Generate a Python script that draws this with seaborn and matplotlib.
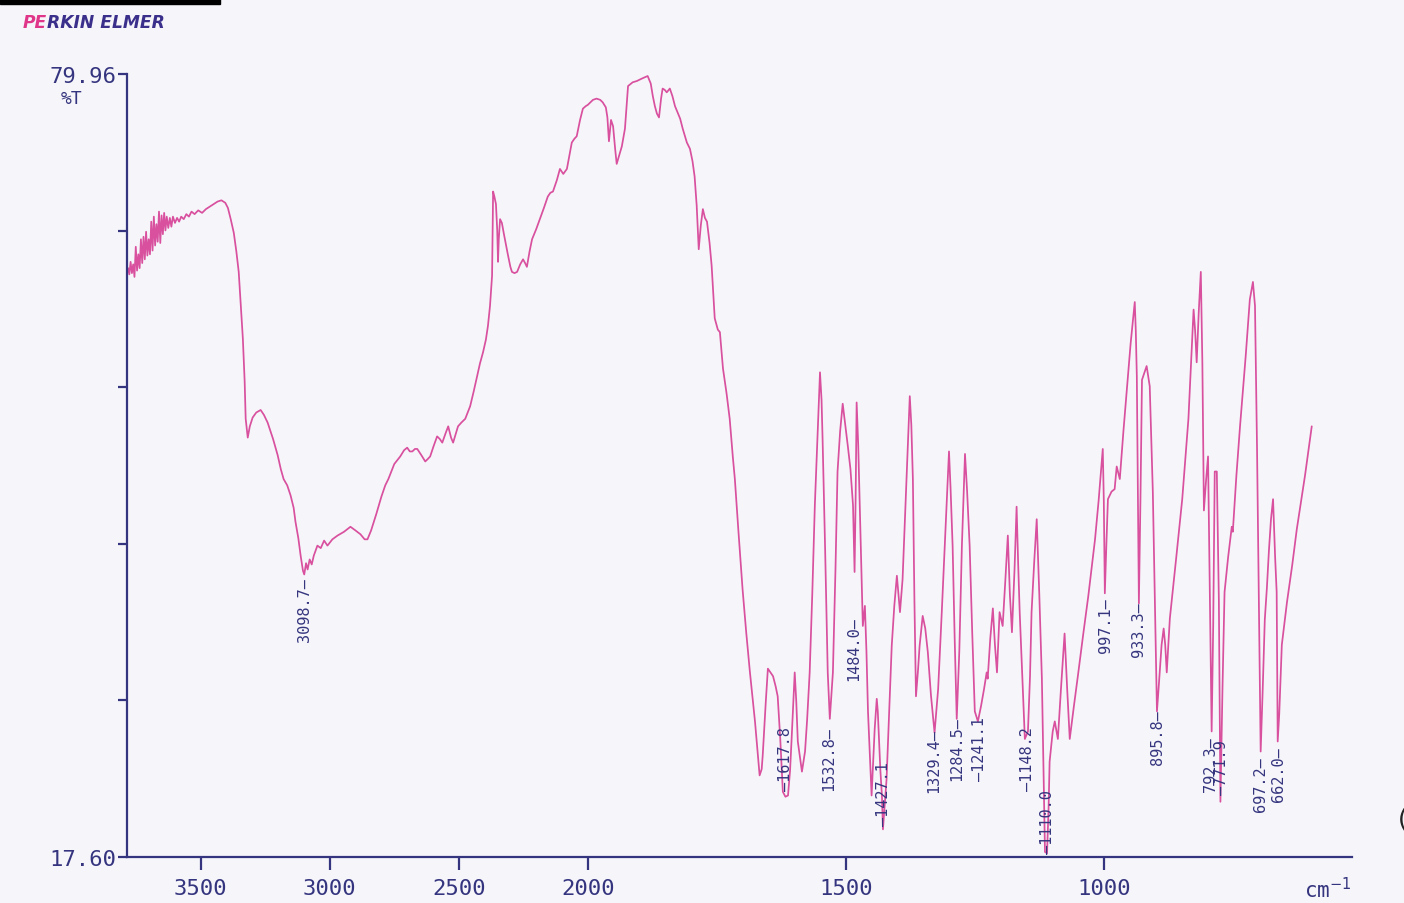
import numpy as np
import pandas as pd
import matplotlib
matplotlib.use("Agg")
import matplotlib.pyplot as plt
import seaborn as sns
from matplotlib.patches import Rectangle

# ---------------- data (wavenumber cm-1, %T) ----------------
oh_wn = [3782, 3777, 3772, 3767, 3762, 3757, 3752, 3747, 3742, 3737,
         3732, 3727, 3722, 3717, 3712, 3707, 3702, 3697, 3692, 3687,
         3682, 3677, 3672, 3667, 3662, 3657, 3652, 3647, 3642, 3637,
         3632, 3626, 3620, 3614, 3608, 3600, 3592, 3584, 3576, 3566,
         3556, 3546, 3536, 3524, 3510, 3495, 3480, 3465, 3450, 3435,
         3420, 3405, 3395, 3384, 3372, 3362, 3353, 3345, 3337, 3330,
         3326, 3318, 3310, 3299, 3285, 3268, 3255, 3241, 3220, 3202,
         3190, 3179, 3165, 3152, 3140, 3133, 3122, 3113, 3104, 3099]
oh_t = [64.5, 64.0, 65.0, 64.1, 64.8, 63.8, 66.2, 64.3, 65.6, 64.5,
        66.8, 64.9, 67.0, 65.2, 67.4, 65.5, 66.8, 65.6, 68.2, 65.9,
        68.6, 66.3, 68.0, 66.6, 69.0, 66.5, 68.7, 67.2, 68.9, 67.5,
        68.6, 67.7, 68.5, 67.8, 68.6, 68.1, 68.5, 68.2, 68.6, 68.4,
        68.8, 68.6, 69.0, 68.8, 69.1, 68.9, 69.2, 69.4, 69.6, 69.8,
        69.9, 69.7, 69.3, 68.4, 67.3, 65.8, 64.2, 61.5, 58.9, 55.5,
        52.5, 51.0, 51.9, 52.6, 53.0, 53.2, 52.8, 52.2, 50.9, 49.6,
        48.5, 47.7, 47.2, 46.4, 45.4, 44.3, 43.0, 41.6, 40.4, 40.1]

mid_wn = [3092, 3086, 3078, 3070, 3062, 3048, 3035, 3022, 3009, 2990,
          2970, 2945, 2920, 2900, 2881, 2865, 2854, 2840, 2820, 2800,
          2785, 2773, 2750, 2727, 2712, 2700, 2690, 2680, 2670, 2661,
          2645, 2630, 2620, 2611, 2598, 2584, 2574, 2564, 2552, 2541,
          2530, 2522, 2512, 2503, 2490, 2475, 2456, 2442, 2429, 2418,
          2406, 2395, 2387, 2379, 2371, 2369, 2367, 2362, 2356, 2351,
          2348, 2345, 2340, 2333, 2325, 2310, 2300, 2294, 2284, 2274,
          2262, 2251, 2243, 2236, 2226, 2216, 2200, 2186, 2170, 2155,
          2145, 2135, 2120, 2108, 2095, 2081, 2070, 2062, 2052, 2043,
          2030, 2019, 2008, 2000]
mid_t = [41.0, 40.5, 41.3, 40.9, 41.6, 42.4, 42.2, 42.8, 42.4, 42.9,
         43.2, 43.5, 43.9, 43.6, 43.3, 42.9, 42.9, 43.6, 44.9, 46.3,
         47.2, 47.7, 48.9, 49.5, 50.0, 50.2, 49.9, 49.9, 50.1, 50.1,
         49.6, 49.1, 49.3, 49.5, 50.3, 51.1, 50.9, 50.6, 51.3, 51.9,
         51.0, 50.6, 51.3, 51.9, 52.2, 52.5, 53.5, 54.7, 55.9, 56.9,
         57.8, 58.8, 59.9, 61.5, 63.9, 67.0, 70.6, 70.2, 69.6, 67.5,
         65.0, 66.8, 68.4, 68.1, 67.2, 65.6, 64.6, 64.2, 64.1, 64.2,
         64.8, 65.2, 64.9, 64.6, 65.8, 66.8, 67.6, 68.4, 69.3, 70.2,
         70.5, 70.6, 71.5, 72.4, 72.0, 72.4, 73.6, 74.5, 74.8, 75.0,
         76.3, 77.2, 77.4, 77.5]

dbl_wn = [1990, 1983, 1976, 1971, 1965, 1962, 1959, 1955, 1951, 1947,
          1944, 1939, 1934, 1928, 1922, 1913, 1905, 1895, 1884, 1878,
          1874, 1870, 1866, 1862, 1858, 1855, 1851, 1847, 1841, 1836,
          1831, 1826, 1821, 1816, 1808, 1802, 1797, 1793, 1789, 1785,
          1781, 1777, 1773, 1769, 1764, 1760, 1754, 1748, 1744, 1738,
          1731, 1725, 1719, 1715, 1708, 1700, 1693, 1686, 1676, 1670,
          1667, 1663, 1661, 1655, 1651, 1646, 1641, 1636, 1632, 1627,
          1622, 1617, 1612, 1608, 1605, 1599, 1596, 1593, 1585, 1579,
          1575, 1570, 1565, 1560, 1555, 1550, 1547, 1545, 1540, 1535,
          1531, 1525, 1520, 1516, 1511, 1506, 1501, 1496, 1491, 1486,
          1483, 1481, 1479, 1476, 1473, 1470, 1467, 1463, 1460, 1457,
          1450, 1444, 1440, 1438, 1433, 1430, 1428, 1425, 1421, 1416,
          1411, 1406, 1401]
dbl_t = [77.9, 78.0, 77.9, 77.7, 77.3, 76.5, 74.6, 76.3, 75.8, 74.0,
         72.8, 73.5, 74.2, 75.6, 79.0, 79.3, 79.4, 79.6, 79.8, 79.2,
         78.2, 77.4, 76.8, 76.5, 78.0, 78.8, 78.7, 78.5, 78.8, 78.2,
         77.4, 76.9, 76.4, 75.6, 74.5, 74.0, 73.0, 71.8, 69.5, 66.0,
         67.9, 69.2, 68.5, 68.2, 66.5, 64.7, 60.5, 59.6, 59.4, 56.5,
         54.5, 52.5, 49.5, 47.7, 43.5, 38.9, 35.5, 32.4, 28.4, 25.5,
         24.1, 24.6, 25.7, 30.0, 32.6, 32.3, 32.0, 31.2, 30.4, 27.0,
         22.8, 22.4, 22.5, 24.5, 27.0, 32.3, 30.0, 26.8, 24.4, 26.0,
         28.5, 32.3, 38.5, 45.6, 51.0, 56.2, 54.0, 50.9, 42.0, 32.3,
         28.6, 32.3, 40.5, 48.3, 51.5, 53.7, 52.0, 50.3, 48.5, 45.6,
         40.3, 46.0, 53.8, 50.5, 45.6, 40.5, 36.0, 37.6, 34.0, 29.2,
         22.5, 27.8, 30.2, 29.2, 24.5, 22.5, 19.8, 21.5, 23.8, 29.0,
         34.4, 37.6, 40.0]

fp1_wn = [1395, 1390, 1383, 1376, 1373, 1370, 1367, 1364, 1360, 1357,
          1351, 1346, 1341, 1335, 1328, 1321, 1314, 1307, 1300, 1297,
          1293, 1289, 1285, 1280, 1275, 1269, 1265, 1260, 1255, 1250,
          1244, 1238, 1232, 1227, 1225, 1220, 1215, 1211, 1207, 1202,
          1196, 1191, 1186, 1182, 1178, 1173, 1169, 1166, 1163, 1158,
          1153, 1147, 1143, 1140, 1135, 1130, 1125, 1120, 1117, 1114,
          1110, 1107, 1105, 1099, 1095, 1089, 1083, 1076, 1071, 1066,
          1058, 1050, 1040, 1030, 1017, 1010, 1002]
fp1_t = [37.1, 39.7, 47.0, 54.3, 52.0, 47.7, 38.0, 30.4, 32.5, 34.4,
         36.8, 35.8, 33.9, 30.5, 27.5, 31.0, 37.1, 43.5, 49.9, 47.0,
         42.4, 35.0, 28.6, 34.0, 42.4, 49.7, 46.8, 42.4, 35.5, 29.2,
         28.4, 29.6, 31.0, 32.3, 31.8, 35.0, 37.4, 34.5, 32.3, 37.1,
         36.0, 39.5, 43.2, 38.5, 35.5, 40.5, 45.5, 41.0, 37.1, 32.0,
         27.0, 27.6, 32.0, 37.1, 41.0, 44.5, 38.5, 31.8, 25.0, 18.0,
         17.9, 21.5, 25.2, 27.6, 28.4, 27.0, 31.0, 35.4, 31.0, 27.0,
         29.6, 32.1, 35.3, 38.4, 42.9, 46.0, 50.1]

fp2_wn = [1000, 998, 995, 992, 985, 979, 975, 969, 962, 955,
          948, 942, 940, 938, 936, 933, 932, 929, 926, 921,
          917, 911, 905, 901, 897, 893, 888, 884, 881, 878,
          872, 860, 848, 836, 826, 823, 820, 816, 812, 809,
          806, 802, 798, 795, 791, 788, 785, 781, 777, 774,
          770, 766, 759, 752, 750, 743, 736, 725, 717, 711,
          707, 703, 699, 696, 692, 688, 684, 680, 676, 672,
          668, 665, 663, 660, 655, 645, 635, 626, 610, 597]
fp2_t = [46.0, 38.6, 42.5, 46.1, 46.7, 46.9, 48.7, 47.7, 51.5, 55.0,
         58.5, 61.0, 61.8, 59.5, 55.9, 42.0, 37.8, 46.0, 55.6, 56.2,
         56.7, 55.1, 46.7, 38.0, 29.2, 31.5, 34.5, 35.8, 34.5, 32.3,
         36.6, 41.3, 46.1, 52.5, 61.2, 59.5, 57.0, 61.0, 64.2, 57.0,
         45.2, 47.5, 49.5, 40.0, 27.6, 36.0, 48.3, 48.3, 38.0, 22.0,
         31.0, 38.7, 41.5, 43.9, 43.5, 48.0, 51.9, 57.5, 62.0, 63.4,
         61.5, 50.0, 36.0, 26.0, 31.0, 36.5, 39.0, 42.0, 44.5, 46.1,
         41.5, 38.7, 26.8, 29.0, 34.5, 37.9, 40.8, 43.7, 48.0, 51.9]

# peak annotations
peak_text = ["3098.7\u2014", "\u20141617.8", "1532.8\u2014", "1484.0\u2014",
             "\u20141427.1", "1329.4\u2014", "1284.5\u2014", "\u20141241.1",
             "\u20141148.2", "\u20141110.0", "997.1\u2014", "933.3\u2014",
             "895.8\u2014", "792.3\u2014", "\u2014771.9", "697.2\u2014",
             "662.0\u2014"]
peak_pos = [3098.7, 1617.8, 1532.8, 1484.0, 1427.1, 1329.4, 1284.5, 1241.1,
            1148.2, 1110.0, 997.1, 933.3, 895.8, 792.3, 771.9, 697.2, 662.0]
peak_text_top = [39.9, 28.0, 28.0, 36.8, 25.2, 27.9, 28.8, 28.8,
                 28.0, 23.0, 38.3, 38.0, 29.4, 27.2, 27.0, 25.6, 26.4]

x_ticks = [3500, 3000, 2500, 2000, 1500, 1000]
x_tick_labels = ["3500", "3000", "2500", "2000", "1500", "1000"]
y_ticks = [17.60, 30.072, 42.544, 55.016, 67.488, 79.96]
y_tick_labels = ["17.60", "", "", "", "", "79.96"]

wavenumber = oh_wn + mid_wn + dbl_wn + fp1_wn + fp2_wn
transmittance = oh_t + mid_t + dbl_t + fp1_t + fp2_t
assert len(wavenumber) == len(transmittance)
df = pd.DataFrame({"wavenumber": wavenumber, "T": transmittance})

# ---------------- style ----------------
sns.set_style("white")
plt.rcParams["font.family"] = ["DejaVu Sans Mono", "DejaVu Sans"]

PAPER = "#f6f5fa"
NAVY = "#35357f"
PINK = "#d8509e"

fig = plt.figure(figsize=(14.04, 9.04), dpi=100, facecolor=PAPER)
ax = fig.add_axes([127 / 1404, 46 / 904, 1225 / 1404, 783 / 904])
ax.set_facecolor(PAPER)

sns.lineplot(data=df, x="wavenumber", y="T", sort=False, estimator=None,
             color=PINK, linewidth=1.25, ax=ax)


def fwd(x):
    x = np.asarray(x, dtype=float)
    return np.where(x > 2000, 2000 + (x - 2000) / 2.0, x)


def inv(u):
    u = np.asarray(u, dtype=float)
    return np.where(u > 2000, 2000 + (u - 2000) * 2.0, u)


ax.set_xscale("function", functions=(fwd, inv))
ax.set_xlim(3786, 519)
ax.set_ylim(17.60, 79.96)

ax.set_xticks(x_ticks)
ax.set_xticklabels(x_tick_labels)
ax.set_yticks(y_ticks)
ax.set_yticklabels(y_tick_labels)
ax.minorticks_off()
ax.set_xlabel("")
ax.set_ylabel("")
ax.grid(False)

ax.tick_params(axis="x", bottom=True, direction="out", length=9, width=1.6,
               color=NAVY, labelcolor=NAVY, labelsize=16, pad=6)
ax.tick_params(axis="y", left=True, direction="out", length=6.5, width=1.6,
               color=NAVY, labelcolor=NAVY, labelsize=16, pad=1)

for side in ["top", "right"]:
    ax.spines[side].set_visible(False)
for side in ["left", "bottom"]:
    ax.spines[side].set_color(NAVY)
    ax.spines[side].set_linewidth(1.6)

for txt, pos, top in zip(peak_text, peak_pos, peak_text_top):
    ax.text(pos, top, txt, rotation=90, ha="center", va="top",
            fontsize=11, color=NAVY, family="DejaVu Sans Mono")

# units and headers
fig.text(72 / 1404, 1 - 99 / 904, "%T", ha="center", va="center",
         fontsize=13, color=NAVY)
fig.text(1304 / 1404, 1 - 890 / 904, "cm$^{-1}$", ha="left", va="center",
         fontsize=15, color=NAVY)

fig.patches.append(Rectangle((0, 1 - 5 / 904), 220 / 1404, 5 / 904,
                             transform=fig.transFigure, color="black",
                             zorder=5))

t1 = fig.text(23 / 1404, 1 - 23 / 904, "PE", ha="left", va="center",
              fontsize=12.3, color="#e0368a", family="DejaVu Sans",
              weight="bold", style="italic")
fig.canvas.draw()
bb = t1.get_window_extent()
fig.text(bb.x1 / 1404, 1 - 23 / 904, "RKIN ELMER", ha="left", va="center",
         fontsize=12.3, color="#3a2f8a", family="DejaVu Sans",
         weight="bold", style="italic")

fig.text(1398 / 1404, 1 - 820 / 904, "(", ha="left", va="center",
         fontsize=18, color="#222222", family="DejaVu Sans")

fig.savefig("out.png", dpi=100, facecolor=PAPER)
